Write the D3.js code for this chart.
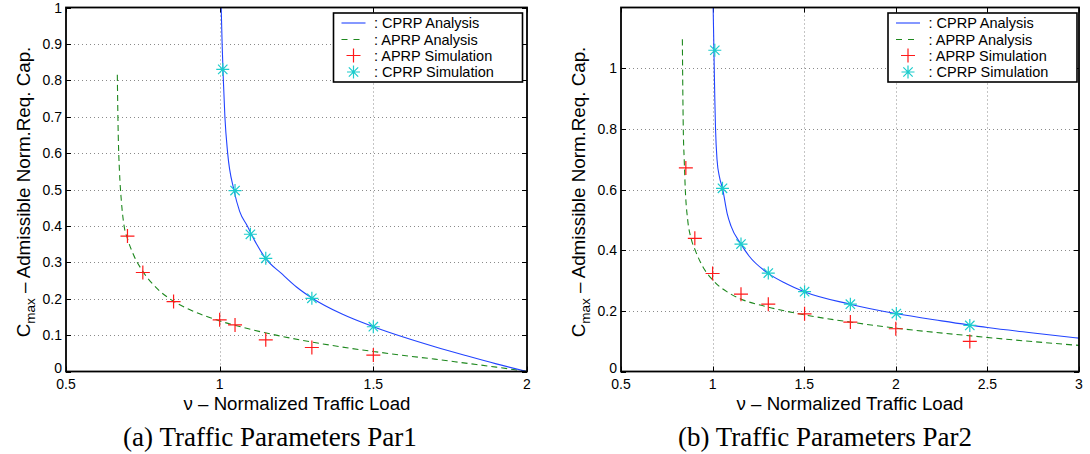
<!DOCTYPE html>
<html><head><meta charset="utf-8">
<script src="https://cdn.jsdelivr.net/npm/d3@7"></script>
<style>body{margin:0;background:#fff}svg{display:block}</style>
</head><body>
<svg id="chart" width="1090" height="454"></svg>
<script>
// ---------- DATA ----------
// Panel (a) Par1
const xTicksA = [0.5, 1, 1.5, 2];
const xTickLabelsA = ["0.5", "1", "1.5", "2"];
const yTicksA = [0, 0.1, 0.2, 0.3, 0.4, 0.5, 0.6, 0.7, 0.8, 0.9, 1];
const yTickLabelsA = ["0", "0.1", "0.2", "0.3", "0.4", "0.5", "0.6", "0.7", "0.8", "0.9", "1"];
const cprpAnalysisA = [[1.005,1.0],[1.008,0.9],[1.012,0.8],[1.017,0.7],[1.026,0.6],[1.046,0.5],[1.065,0.44],[1.09,0.4],[1.12,0.35],[1.15,0.31],[1.2,0.27],[1.25,0.232],[1.3,0.202],[1.4,0.157],[1.5,0.123],[1.6,0.094],[1.7,0.068],[1.8,0.044],[1.9,0.021],[2.0,0.0]];
const aprpAnalysisA = [[0.667,0.815],[0.668,0.75],[0.670,0.65],[0.674,0.55],[0.68,0.47],[0.689,0.40],[0.70,0.365],[0.72,0.32],[0.75,0.275],[0.8,0.225],[0.85,0.193],[0.9,0.171],[1.0,0.139],[1.1,0.116],[1.2,0.097],[1.3,0.081],[1.4,0.067],[1.5,0.055],[1.6,0.044],[1.7,0.034],[1.8,0.023],[1.9,0.012],[2.0,0.0]];
const aprpSimA = [[0.70,0.372],[0.75,0.272],[0.85,0.192],[1.0,0.142],[1.05,0.128],[1.15,0.087],[1.3,0.066],[1.5,0.045]];
const cprpSimA = [[1.01,0.83],[1.05,0.497],[1.1,0.377],[1.15,0.311],[1.3,0.201],[1.5,0.123]];

// Panel (b) Par2
const xTicksB = [0.5, 1, 1.5, 2, 2.5, 3];
const xTickLabelsB = ["0.5", "1", "1.5", "2", "2.5", "3"];
const yTicksB = [0, 0.2, 0.4, 0.6, 0.8, 1];
const yTickLabelsB = ["0", "0.2", "0.4", "0.6", "0.8", "1"];
const cprpAnalysisB = [[1.003,1.2],[1.006,1.1],[1.009,1.0],[1.012,0.9],[1.016,0.8],[1.024,0.7],[1.038,0.64],[1.054,0.604],[1.08,0.52],[1.1,0.48],[1.155,0.42],[1.2,0.38],[1.3,0.325],[1.4,0.29],[1.5,0.263],[1.75,0.222],[2.0,0.191],[2.25,0.167],[2.5,0.145],[2.75,0.127],[3.0,0.110]];
const aprpAnalysisB = [[0.835,1.095],[0.837,0.95],[0.84,0.8],[0.845,0.7],[0.851,0.6],[0.864,0.5],[0.882,0.44],[0.905,0.4],[0.945,0.347],[1.0,0.302],[1.1,0.255],[1.15,0.24],[1.3,0.213],[1.5,0.187],[1.75,0.163],[2.0,0.143],[2.4,0.118],[2.7,0.101],[3.0,0.086]];
const aprpSimB = [[0.854,0.671],[0.903,0.439],[1.0,0.323],[1.155,0.255],[1.304,0.222],[1.502,0.190],[1.752,0.163],[2.0,0.141],[2.404,0.099]];
const cprpSimB = [[1.012,1.059],[1.054,0.604],[1.155,0.420],[1.304,0.3245],[1.502,0.263],[1.752,0.222],[2.003,0.191],[2.404,0.152]];

const legendLabels = [": CPRP Analysis", ": APRP Analysis", ": APRP Simulation", ": CPRP Simulation"];
const xLabelText = "ν – Normalized Traffic Load";
const captions = ["(a) Traffic Parameters Par1", "(b) Traffic Parameters Par2"];

// ---------- STYLE ----------
const C_BLUE = "#2244ff", C_GREEN = "#1e881e", C_RED = "#ff1a1a", C_CYAN = "#1ccccc";
const SANS = "'Liberation Sans', Arial, Helvetica, sans-serif";
const SERIF = "'Liberation Serif', 'Times New Roman', serif";

const svg = d3.select("#chart");

function fitWidth(sel, target) {
  const len = sel.node().getComputedTextLength();
  const fs = parseFloat(sel.attr("font-size"));
  sel.attr("font-size", (fs * target / len).toFixed(2));
}

function plusPath(s) { return `M${-s},0H${s}M0,${-s}V${s}`; }
function starPath(s) { const d = s * 0.72; return `M${-s},0H${s}M0,${-s}V${s}M${-d},${-d}L${d},${d}M${-d},${d}L${d},${-d}`; }

function panel(cfg, idx) {
  const g = svg.append("g");
  const x = d3.scaleLinear().domain(cfg.xDomain).range([cfg.x0, cfg.x1]);
  const y = d3.scaleLinear().domain(cfg.yDomain).range([cfg.y1, cfg.y0]);

  // grid
  const grid = g.append("g").attr("stroke", "#8a8a8a").attr("stroke-width", 1).attr("stroke-dasharray", "1,3");
  cfg.xTicks.filter(v => v > cfg.xDomain[0] && v < cfg.xDomain[1]).forEach(v => {
    grid.append("line").attr("x1", Math.round(x(v)) + 0.5).attr("x2", Math.round(x(v)) + 0.5).attr("y1", cfg.y0).attr("y2", cfg.y1);
  });
  cfg.yTicks.filter(v => v > cfg.yDomain[0] && v < cfg.yDomain[1]).forEach(v => {
    grid.append("line").attr("y1", Math.round(y(v)) + 0.5).attr("y2", Math.round(y(v)) + 0.5).attr("x1", cfg.x0).attr("x2", cfg.x1);
  });

  // ticks inward on all sides
  const tk = g.append("g").attr("stroke", "#000").attr("stroke-width", 1);
  const TL = 5;
  cfg.xTicks.forEach(v => {
    const px = Math.round(x(v)) + 0.5;
    tk.append("line").attr("x1", px).attr("x2", px).attr("y1", cfg.y1).attr("y2", cfg.y1 - TL);
    tk.append("line").attr("x1", px).attr("x2", px).attr("y1", cfg.y0).attr("y2", cfg.y0 + TL);
  });
  cfg.yTicks.forEach(v => {
    const py = Math.round(y(v)) + 0.5;
    tk.append("line").attr("y1", py).attr("y2", py).attr("x1", cfg.x0).attr("x2", cfg.x0 + TL);
    tk.append("line").attr("y1", py).attr("y2", py).attr("x1", cfg.x1).attr("x2", cfg.x1 - TL);
  });

  // clip
  const clipId = "clip" + idx;
  svg.append("clipPath").attr("id", clipId).append("rect")
    .attr("x", cfg.x0).attr("y", cfg.y0).attr("width", cfg.x1 - cfg.x0).attr("height", cfg.y1 - cfg.y0);
  const dg = g.append("g").attr("clip-path", `url(#${clipId})`);
  const line = d3.line().x(d => x(d[0])).y(d => y(d[1])).curve(d3.curveMonotoneX);

  dg.append("path").datum(cfg.aprpAna).attr("d", line).attr("fill", "none")
    .attr("stroke", C_GREEN).attr("stroke-width", 1.1).attr("stroke-dasharray", "6,4");
  dg.append("path").datum(cfg.cprpAna).attr("d", line).attr("fill", "none")
    .attr("stroke", C_BLUE).attr("stroke-width", 1.1);

  g.append("g").selectAll("path").data(cfg.aprpSim).join("path")
    .attr("transform", d => `translate(${x(d[0])},${y(d[1])})`)
    .attr("d", plusPath(7)).attr("stroke", C_RED).attr("stroke-width", 1.2).attr("fill", "none");
  g.append("g").selectAll("path").data(cfg.cprpSim).join("path")
    .attr("transform", d => `translate(${x(d[0])},${y(d[1])})`)
    .attr("d", starPath(6.5)).attr("stroke", C_CYAN).attr("stroke-width", 1.2).attr("fill", "none");

  // axes box
  g.append("rect").attr("x", cfg.x0).attr("y", cfg.y0).attr("width", cfg.x1 - cfg.x0).attr("height", cfg.y1 - cfg.y0)
    .attr("fill", "none").attr("stroke", "#000").attr("stroke-width", 1.8);

  // tick labels
  const tl = g.append("g").attr("font-family", SANS).attr("font-size", 14).attr("fill", "#000");
  cfg.xTicks.forEach((v, i) => {
    tl.append("text").attr("x", x(v)).attr("y", cfg.y1 + 17.5).attr("text-anchor", "middle").text(cfg.xTickLabels[i]);
  });
  cfg.yTicks.forEach((v, i) => {
    tl.append("text").attr("x", cfg.x0 - 4).attr("y", i === 0 ? y(v) + 1.5 : y(v) + 5)
      .attr("text-anchor", "end").text(cfg.yTickLabels[i]);
  });

  // x label
  const xl = g.append("text").attr("x", cfg.xLabelX).attr("y", 409.5).attr("text-anchor", "middle")
    .attr("font-family", SANS).attr("font-size", 18).text(xLabelText);
  fitWidth(xl, 227);

  // y label
  const yl = g.append("text").attr("transform", `translate(${cfg.x0 - 36},${192}) rotate(-90)`)
    .attr("text-anchor", "middle").attr("font-family", SANS).attr("font-size", 18);
  yl.append("tspan").text("C");
  yl.append("tspan").attr("dy", 5).attr("font-size", "0.72em").text("max");
  yl.append("tspan").attr("dy", -5).text(" – Admissible Norm.Req. Cap.");
  fitWidth(yl, 291);

  // caption
  const cap = g.append("text").attr("x", cfg.capX).attr("y", 446).attr("text-anchor", "middle")
    .attr("font-family", SERIF).attr("font-size", 22).text(cfg.caption);
  fitWidth(cap, 294);

  // legend
  const L = g.append("g");
  L.append("rect").attr("x", cfg.legX).attr("y", 13).attr("width", 189).attr("height", 69)
    .attr("fill", "#fff").attr("stroke", "#000").attr("stroke-width", 1.6);
  const rows = [23, 39.5, 55.5, 72];
  L.append("line").attr("x1", cfg.legX + 8).attr("x2", cfg.legX + 32).attr("y1", rows[0]).attr("y2", rows[0])
    .attr("stroke", C_BLUE).attr("stroke-width", 1.1);
  L.append("line").attr("x1", cfg.legX + 8).attr("x2", cfg.legX + 32).attr("y1", rows[1]).attr("y2", rows[1])
    .attr("stroke", C_GREEN).attr("stroke-width", 1.1).attr("stroke-dasharray", "6,6");
  L.append("path").attr("transform", `translate(${cfg.legX + 20},${rows[2]})`).attr("d", plusPath(7))
    .attr("stroke", C_RED).attr("stroke-width", 1.2);
  L.append("path").attr("transform", `translate(${cfg.legX + 20},${rows[3]})`).attr("d", starPath(6.5))
    .attr("stroke", C_CYAN).attr("stroke-width", 1.2);
  legendLabels.forEach((t, i) => {
    L.append("text").attr("x", cfg.legX + 40.5).attr("y", rows[i] + 5).attr("font-family", SANS)
      .attr("font-size", 14.5).attr("fill", "#000").text(t);
  });
}

panel({
  x0: 66, x1: 527, y0: 7.5, y1: 371.5,
  xDomain: [0.5, 2], yDomain: [0, 1],
  xTicks: xTicksA, xTickLabels: xTickLabelsA, yTicks: yTicksA, yTickLabels: yTickLabelsA,
  cprpAna: cprpAnalysisA, aprpAna: aprpAnalysisA, aprpSim: aprpSimA, cprpSim: cprpSimA,
  xLabelX: 297, capX: 270, caption: captions[0], legX: 333.5
}, 0);

panel({
  x0: 621, x1: 1079, y0: 7.5, y1: 371.5,
  xDomain: [0.5, 3], yDomain: [0, 1.2],
  xTicks: xTicksB, xTickLabels: xTickLabelsB, yTicks: yTicksB, yTickLabels: yTickLabelsB,
  cprpAna: cprpAnalysisB, aprpAna: aprpAnalysisB, aprpSim: aprpSimB, cprpSim: cprpSimB,
  xLabelX: 850, capX: 825, caption: captions[1], legX: 888
}, 1);
</script>
</body></html>
